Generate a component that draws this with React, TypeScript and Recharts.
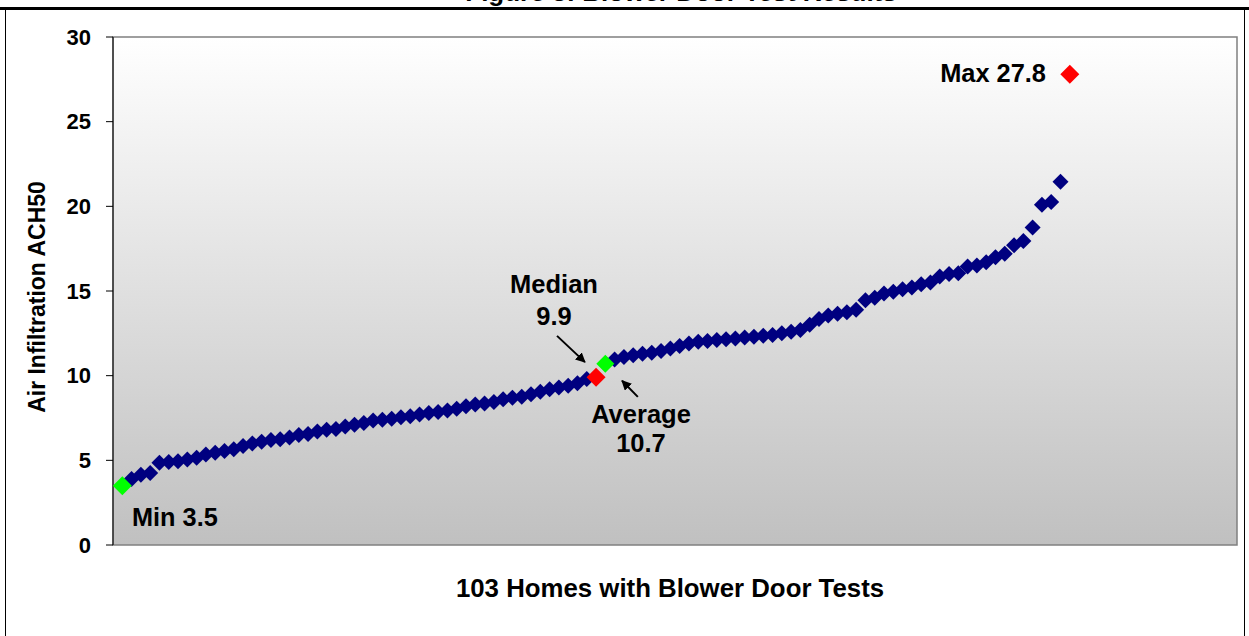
import { CartesianGrid, ReferenceArea, ReferenceLine, Scatter, ScatterChart, XAxis, YAxis } from "recharts";

// ACH50 per home, sorted low to high (103 homes)
const ACH50 = [
  3.5, 3.9, 4.15, 4.25, 4.85, 4.9, 4.95, 5.05, 5.15, 5.35,
  5.45, 5.55, 5.65, 5.85, 6.0, 6.1, 6.2, 6.25, 6.35, 6.5,
  6.55, 6.7, 6.8, 6.85, 7.0, 7.1, 7.2, 7.35, 7.4, 7.45,
  7.55, 7.6, 7.7, 7.8, 7.85, 7.95, 8.05, 8.2, 8.3, 8.35,
  8.45, 8.6, 8.7, 8.75, 8.9, 9.05, 9.2, 9.3, 9.4, 9.55,
  9.8, 9.9, 10.7, 10.95, 11.1, 11.2, 11.3, 11.35, 11.45, 11.6,
  11.75, 11.9, 12.0, 12.05, 12.1, 12.15, 12.2, 12.25, 12.3, 12.35,
  12.4, 12.5, 12.6, 12.7, 13.0, 13.35, 13.55, 13.65, 13.75, 13.9,
  14.45, 14.6, 14.85, 14.95, 15.1, 15.2, 15.4, 15.5, 15.85, 16.0,
  16.05, 16.45, 16.5, 16.7, 17.0, 17.2, 17.7, 17.95, 18.75, 20.1,
  20.25, 21.45, 27.8,
];

const Y_TICKS = [0, 5, 10, 15, 20, 25, 30];

// highlighted homes: [home number, value]
const MIN_PT = [1, 3.5];
const MEDIAN_PT = [52, 9.9];
const AVERAGE_PT = [53, 10.7];
const MAX_PT = [103, 27.8];

// annotation arrows in data units: [x1, y1, x2, y2]
const MEDIAN_ARROW = [47.8, 12.35, 50.8, 10.8];
const AVERAGE_ARROW = [56.5, 8.75, 54.8, 9.7];

const homes = ACH50.map((v, i) => ({ x: i + 1, y: v }));
const pt = (p: number[]) => [{ x: p[0], y: p[1] }];

const FONT = "'Liberation Sans', Arial, sans-serif";

function diamond(r: number, fill: string) {
  return (props: any) => {
    const { cx, cy } = props;
    if (cx == null || cy == null) return <g />;
    return (
      <polygon
        points={`${cx},${cy - r} ${cx + r},${cy} ${cx},${cy + r} ${cx - r},${cy}`}
        fill={fill}
      />
    );
  };
}

const arrowShape = (props: any) => (
  <line
    x1={props.x1}
    y1={props.y1}
    x2={props.x2}
    y2={props.y2}
    stroke="#000"
    strokeWidth={2}
    markerEnd="url(#arrowHead)"
  />
);

function arrow(a: number[], key: string) {
  return (
    <ReferenceLine
      key={key}
      segment={[
        { x: a[0], y: a[1] },
        { x: a[2], y: a[3] },
      ]}
      shape={arrowShape}
      ifOverflow="visible"
    />
  );
}

const txt = { fontFamily: FONT, fontWeight: 700, fill: "#000" } as const;

export default function App() {
  return (
    <div
      style={{
        position: "absolute",
        top: 0,
        left: 0,
        width: 1249,
        height: 636,
        overflow: "hidden",
        background: "#fff",
      }}
    >
      <ScatterChart
        width={1249}
        height={636}
        margin={{ top: 37, right: 12, bottom: 91, left: 53 }}
      >
        <defs>
          <linearGradient id="plotBg" x1="0" y1="0" x2="0" y2="1">
            <stop offset="0%" stopColor="#ffffff" />
            <stop offset="100%" stopColor="#c0c0c0" />
          </linearGradient>
          <marker
            id="arrowHead"
            viewBox="0 0 10 10"
            refX="9"
            refY="5"
            markerWidth="5"
            markerHeight="5"
            orient="auto"
          >
            <path d="M0,0 L10,5 L0,10 z" fill="#000" />
          </marker>
        </defs>
        <CartesianGrid horizontal={false} vertical={false} fill="url(#plotBg)" fillOpacity={1} />
        <ReferenceArea
          x1={0}
          x2={121}
          y1={0}
          y2={30}
          fill="none"
          stroke="#808080"
          strokeWidth={1.5}
          ifOverflow="visible"
        />
        <XAxis
          type="number"
          dataKey="x"
          domain={[0, 121]}
          ticks={[]}
          tick={false}
          tickLine={false}
          axisLine={{ stroke: "#000", strokeWidth: 1 }}
          height={0}
        />
        <YAxis
          type="number"
          dataKey="y"
          domain={[0, 30]}
          ticks={Y_TICKS}
          width={60}
          tickSize={7}
          tickMargin={15}
          axisLine={{ stroke: "#000", strokeWidth: 1 }}
          tickLine={{ stroke: "#000" }}
          tick={{ ...txt, fontSize: 22 }}
        />
        <Scatter data={homes} shape={diamond(8, "#000080")} isAnimationActive={false} />
        <Scatter data={pt(MIN_PT)} shape={diamond(9.5, "#00ff00")} isAnimationActive={false} />
        <Scatter data={pt(MEDIAN_PT)} shape={diamond(9.5, "#ff0000")} isAnimationActive={false} />
        <Scatter data={pt(AVERAGE_PT)} shape={diamond(9, "#00ff00")} isAnimationActive={false} />
        <Scatter data={pt(MAX_PT)} shape={diamond(9.5, "#ff0000")} isAnimationActive={false} />
        {arrow(MEDIAN_ARROW, "med")}
        {arrow(AVERAGE_ARROW, "avg")}
      </ScatterChart>

      <svg
        width={1249}
        height={636}
        style={{ position: "absolute", top: 0, left: 0, pointerEvents: "none" }}
      >
        {/* title sits above the visible frame, as in the source page */}
        <text x={681} y={1} textAnchor="middle" fontSize={26} {...txt}>
          Figure 3: Blower Door Test Results
        </text>
        <rect x={0} y={7} width={1249} height={3} fill="#000" />
        <line x1={5.5} y1={9} x2={5.5} y2={636} stroke="#000" strokeWidth={1} />
        <line x1={1244.5} y1={9} x2={1244.5} y2={636} stroke="#000" strokeWidth={1} />

        <text
          transform="translate(45,297) rotate(-90)"
          textAnchor="middle"
          fontSize={23}
          {...txt}
        >
          Air Infiltration ACH50
        </text>
        <text x={670} y={597} textAnchor="middle" fontSize={25.8} {...txt}>
          103 Homes with Blower Door Tests
        </text>

        <text x={132} y={526} fontSize={25.3} {...txt}>Min 3.5</text>
        <text x={554} y={293} textAnchor="middle" fontSize={25.5} {...txt}>Median</text>
        <text x={554} y={325} textAnchor="middle" fontSize={25.5} {...txt}>9.9</text>
        <text x={641} y={423} textAnchor="middle" fontSize={25.5} {...txt}>Average</text>
        <text x={641} y={452} textAnchor="middle" fontSize={25.5} {...txt}>10.7</text>
        <text x={1046} y={82} textAnchor="end" fontSize={25.4} {...txt}>Max 27.8</text>
      </svg>
    </div>
  );
}
